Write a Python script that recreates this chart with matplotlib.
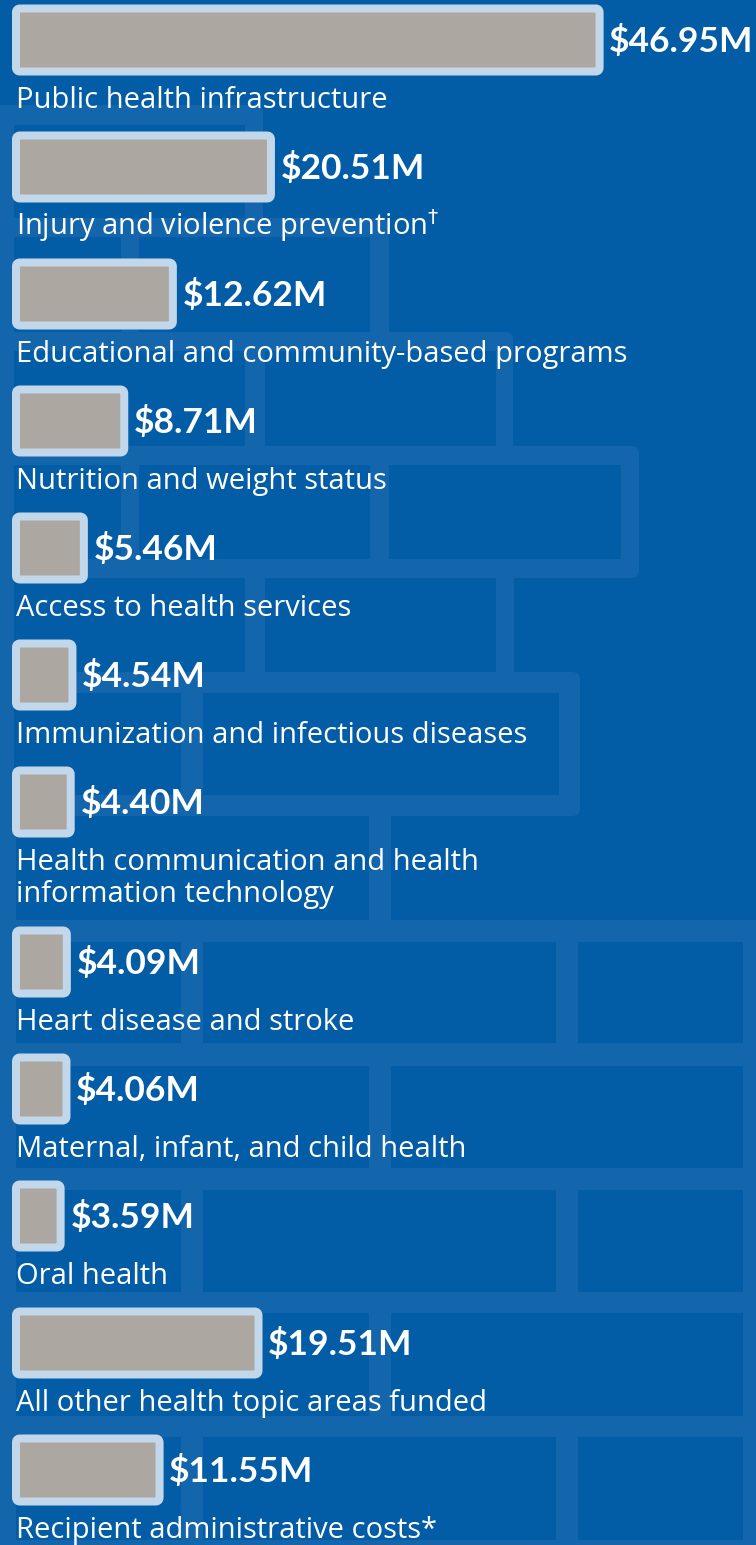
import matplotlib
matplotlib.use("Agg")
import matplotlib.pyplot as plt
from matplotlib.patches import FancyBboxPatch, Rectangle

# ---------------- data ----------------
categories = [
    "Public health infrastructure",
    "Injury and violence prevention$^{\\dagger}$",
    "Educational and community-based programs",
    "Nutrition and weight status",
    "Access to health services",
    "Immunization and infectious diseases",
    "Health communication and health\ninformation technology",
    "Heart disease and stroke",
    "Maternal, infant, and child health",
    "Oral health",
    "All other health topic areas funded",
    "Recipient administrative costs*",
]
values = [46.95, 20.51, 12.62, 8.71, 5.46, 4.54, 4.40, 4.09, 4.06, 3.59, 19.51, 11.55]
value_labels = ["$%.2fM" % v for v in values]

# ---------------- style ----------------
BG = "#035DA6"
MORTAR = "#1366AB"
BAR_FILL = "#ACA7A1"
BAR_EDGE = "#C2D7EA"
W, H = 756, 1545
PX_PER_UNIT = 12.43
X0 = 16.0

fig = plt.figure(figsize=(W / 100, H / 100), dpi=100)
fig.patch.set_facecolor(BG)
ax = fig.add_axes([0, 0, 1, 1])
ax.set_facecolor(BG)
ax.set_xlim(-X0 / PX_PER_UNIT, (W - X0) / PX_PER_UNIT)
ax.set_ylim(H, 0)
ax.axis("off")

def px(x):
    return (x - X0) / PX_PER_UNIT

# ---------------- decorative brick background ----------------
# rows: (mortar top, brick top, brick bottom, mortar bottom, right edge, bricks [(x0,x1)])
brick_rows = [
    (105, 125, 218, 237, 263, [(14, 245)]),
    (218, 237, 332, 351, 389, [(14, 121), (139, 370)]),
    (332, 351, 446, 465, 513, [(14, 245), (265, 496)]),
    (446, 465, 559, 578, 639, [(14, 121), (139, 370), (389, 621)]),
    (559, 578, 672, 693, 514, [(14, 245), (265, 496)]),
    (672, 693, 795, 816, 580, [(14, 181), (203, 559)]),
    (816, 816, 920, 942, 780, [(16, 369), (391, 780)]),
    (920, 942, 1043, 1066, 780, [(16, 181), (203, 556), (578, 743)]),
    (1043, 1066, 1168, 1190, 780, [(16, 369), (391, 743)]),
    (1168, 1190, 1292, 1313, 780, [(16, 181), (203, 556), (578, 743)]),
    (1292, 1313, 1416, 1437, 780, [(16, 369), (391, 743)]),
    (1416, 1437, 1540, 1570, 780, [(16, 181), (203, 556), (578, 743)]),
]
for mt, bt, bb, mb, edge, bricks in brick_rows:
    ax.add_patch(FancyBboxPatch((px(-10), mt), px(edge) - px(-10), mb - mt,
                                boxstyle="round,pad=0,rounding_size=%f" % (8 / PX_PER_UNIT),
                                mutation_aspect=PX_PER_UNIT,
                                facecolor=MORTAR, edgecolor="none", zorder=0))
for mt, bt, bb, mb, edge, bricks in brick_rows:
    for b0, b1 in bricks:
        ax.add_patch(Rectangle((px(b0), bt), px(b1) - px(b0), bb - bt,
                               facecolor=BG, edgecolor="none", zorder=0.5))

# ---------------- bars ----------------
ROW = 127
EXTRA_LINE = 33
BAR_H = 63
LINE_PX = 32
centers = []
extra = 0
for i, cat in enumerate(categories):
    centers.append(40 + ROW * i + EXTRA_LINE * extra)
    extra += cat.count("\n")

val_font = dict(family=["Lato", "DejaVu Sans"], weight="bold", size=25.5)
lab_font = dict(family=["Open Sans", "DejaVu Sans"], size=21)

for cat, v, lab, c in zip(categories, values, value_labels, centers):
    bar = FancyBboxPatch((0, c - BAR_H / 2), v, BAR_H,
                         boxstyle="round,pad=0,rounding_size=%f" % (4 / PX_PER_UNIT),
                         mutation_aspect=PX_PER_UNIT,
                         facecolor=BAR_FILL, edgecolor=BAR_EDGE,
                         linewidth=5.76, joinstyle="round", zorder=2)
    ax.add_patch(bar)
    ax.annotate(lab, xy=(v, c + 12), xytext=(7, 0), textcoords="offset points",
                ha="left", va="baseline", color="white", zorder=3, **val_font)
    ax.text(0, c + 68 + LINE_PX * cat.count("\n"), cat, ha="left", va="baseline",
            color="white", linespacing=1.15, zorder=3, **lab_font)

fig.savefig("out.png", dpi=100, facecolor=BG)
